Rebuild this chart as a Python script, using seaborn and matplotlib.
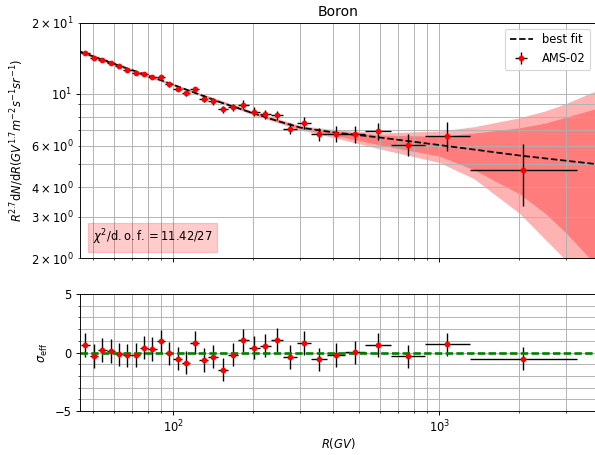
import numpy as np
import matplotlib
matplotlib.use('Agg')
import matplotlib.pyplot as plt
import matplotlib.ticker as mticker
import seaborn as sns

# AMS-02 boron rigidity bins (GV)
r_lo = [45.1, 48.5, 52.2, 56.1, 60.3, 64.8, 69.7, 74.9, 80.5, 86.5, 93.0, 100, 108, 116, 125, 135,
        147, 160, 175, 192, 211, 233, 259, 291, 330, 379, 441, 525, 660, 880, 1300]
r_hi = [48.5, 52.2, 56.1, 60.3, 64.8, 69.7, 74.9, 80.5, 86.5, 93.0, 100, 108, 116, 125, 135, 147,
        160, 175, 192, 211, 233, 259, 291, 330, 379, 441, 525, 660, 880, 1300, 3300]

# R^2.7 * flux
flux = [14.95, 14.22, 13.96, 13.54, 13.06, 12.62, 12.27, 12.15, 11.81, 11.75, 11.00, 10.50, 10.04,
        10.45, 9.53, 9.31, 8.60, 8.78, 8.98, 8.38, 8.18, 8.10, 7.10, 7.54, 6.72, 6.75, 6.74, 6.94,
        6.07, 6.64, 4.72]
flux_err = [0.22, 0.21, 0.21, 0.20, 0.19, 0.25, 0.24, 0.24, 0.23, 0.23, 0.27, 0.26, 0.25, 0.26,
            0.33, 0.32, 0.29, 0.30, 0.40, 0.37, 0.36, 0.36, 0.38, 0.44, 0.44, 0.53, 0.57, 0.56,
            0.65, 0.91, 1.38]

# residuals in units of sigma
sigma_eff = [0.64, -0.30, 0.21, 0.13, -0.16, -0.24, -0.21, 0.41, 0.30, 0.96, -0.07, -0.53, -0.87,
             0.84, -0.64, -0.36, -1.47, -0.19, 1.04, 0.41, 0.58, 1.07, -0.38, 0.81, -0.58, -0.21,
             0.02, 0.64, -0.32, 0.70, -0.53]

# best fit curve
fit_r = [44.6, 60, 80, 100, 150, 200, 250, 300, 400, 600, 1000, 2000, 3880]
fit_val = [15.11, 13.38, 11.98, 10.92, 9.20, 8.26, 7.62, 7.18, 6.85, 6.51, 6.05, 5.46, 5.02]

# uncertainty bands
band_r = [44.6, 100, 200, 300, 400, 600, 1000, 1350, 2000, 2500, 3000, 3880]
outer_hi = [15.35, 11.05, 8.40, 7.33, 7.04, 6.81, 6.94, 7.24, 7.90, 8.45, 9.10, 10.30]
inner_hi = [15.23, 10.98, 8.33, 7.25, 6.96, 6.67, 6.58, 6.80, 7.16, 7.50, 7.95, 8.65]
inner_lo = [14.99, 10.86, 8.19, 7.08, 6.67, 6.05, 5.43, 4.75, 3.75, 3.10, 2.55, 1.87]
outer_lo = [14.87, 10.79, 8.12, 7.01, 6.51, 5.82, 5.10, 4.35, 3.10, 2.40, 1.95, 1.40]

r_lo = np.array(r_lo)
r_hi = np.array(r_hi)
r_c = np.sqrt(r_lo * r_hi)
xerr = [r_c - r_lo, r_hi - r_c]

W, H, DPI = 595, 455, 83
fig = plt.figure(figsize=(W / DPI, H / DPI), dpi=DPI)
ax1 = fig.add_axes([80 / W, (H - 258) / H, 516 / W, 235 / H])
ax2 = fig.add_axes([80 / W, (H - 411) / H, 516 / W, 117 / H], sharex=ax1)

# top panel
ax1.fill_between(band_r, outer_lo, outer_hi, color='red', alpha=0.3, lw=0)
ax1.fill_between(band_r, inner_lo, inner_hi, color='red', alpha=0.3, lw=0)
sns.lineplot(x=fit_r, y=fit_val, ax=ax1, color='black', linestyle='--', lw=1.5, label='best fit')
ax1.errorbar(r_c, flux, xerr=xerr, yerr=flux_err, fmt='o', color='red', ms=4,
             ecolor='black', elinewidth=1.2, label='AMS-02')
ax1.set_xscale('log')
ax1.set_yscale('log')
ax1.set_xlim(44.6, 3880)
ax1.set_ylim(2, 20)
ax1.yaxis.set_minor_formatter(mticker.LogFormatterSciNotation(labelOnlyBase=False,
                                                              minor_thresholds=(2, 0.4)))
ax1.grid(which='both')
ax1.tick_params(labelbottom=False)
ax1.set_ylabel(r'$R^{2.7}{\rm d}N/{\rm d}R(GV^{1.7}m^{-2}s^{-1}sr^{-1})$')
ax1.set_title('Boron')
ax1.legend(loc='upper right')
ax1.text(0.025, 0.045, r'$\chi^2/{\rm d.o.f.} = 11.42/27$', transform=ax1.transAxes,
         ha='left', va='bottom',
         bbox=dict(facecolor='red', alpha=0.2, edgecolor='red'))

# bottom panel
ax2.errorbar(r_c, sigma_eff, xerr=xerr, yerr=1, fmt='o', color='red', ms=4,
             ecolor='black', elinewidth=1.2)
ax2.axhline(0, color='green', ls=(0, (2.8, 1.25)), lw=2.3)
ax2.set_ylim(-5, 5)
ax2.yaxis.set_major_locator(mticker.MultipleLocator(5))
ax2.yaxis.set_minor_locator(mticker.MultipleLocator(1))
ax2.grid(which='both')
ax2.set_xlabel(r'$R(GV)$', labelpad=0)
ax2.set_ylabel(r'$\sigma_{\rm eff}$')

fig.savefig('out.png', dpi=DPI)
